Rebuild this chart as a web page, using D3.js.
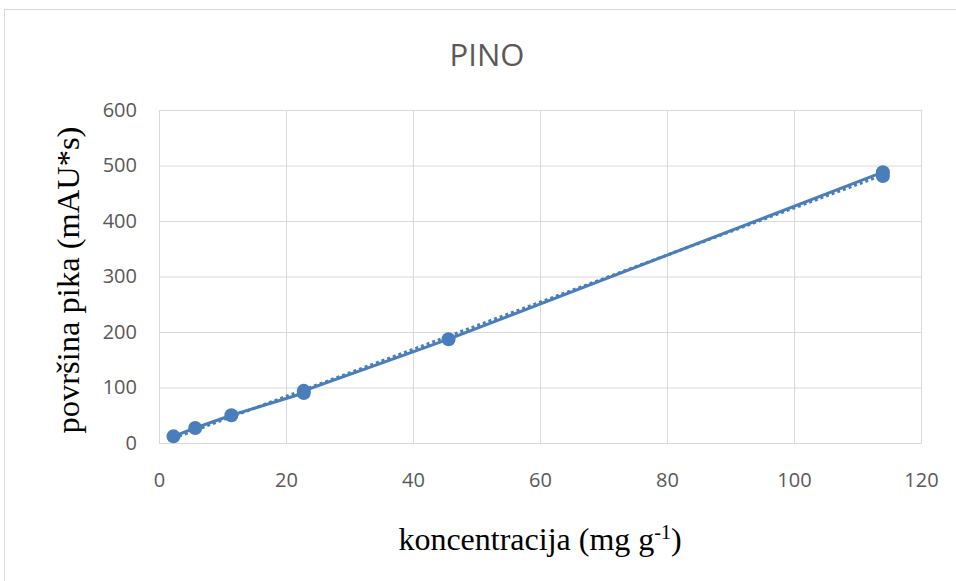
<!DOCTYPE html>
<html>
<head>
<meta charset="utf-8">
<script src="https://cdn.jsdelivr.net/npm/d3@7"></script>
<style>
  body { margin: 0; background: #fff; }
</style>
</head>
<body>
<div id="grafico"></div>
<script>
// datos
const concentracion = [2.28, 5.7, 11.4, 22.8, 22.8, 45.6, 114, 114];
const area = [12, 27, 50, 90, 94, 187, 488, 481];
const ticksX = [0, 20, 40, 60, 80, 100, 120];
const ticksY = [0, 100, 200, 300, 400, 500, 600];

const svgWidth = 956, svgHeight = 581;
const margin = { top: 110, right: 35, bottom: 138, left: 159 };
const width = svgWidth - margin.left - margin.right;
const height = svgHeight - margin.top - margin.bottom;
const azul = "#4a7ebb";

const svgRoot = d3.select("#grafico")
    .append("svg")
    .attr("width", svgWidth)
    .attr("height", svgHeight);

// marco del grafico
svgRoot.append("rect")
    .attr("x", 4.5).attr("y", 9.5)
    .attr("width", 1000).attr("height", 1000)
    .attr("fill", "none")
    .attr("stroke", "#d9d9d9");

const svg = svgRoot.append("g")
    .attr("transform", `translate(${margin.left}, ${margin.top})`);

const x = d3.scaleLinear().domain([0, 120]).range([0, width]);
const y = d3.scaleLinear().domain([0, 600]).range([height, 0]);

// Eje X con lineas de cuadricula
const ejeX = svg.append("g")
    .attr("transform", `translate(0, ${height})`)
    .call(d3.axisBottom(x).tickValues(ticksX).tickSize(-height).tickPadding(30));
ejeX.select(".domain").attr("stroke", "#d9d9d9");
ejeX.selectAll("line").attr("stroke", "#d9d9d9");
ejeX.selectAll("text")
    .attr("fill", "#595959")
    .style("font-family", "'Open Sans', sans-serif")
    .style("font-size", "20px");

// Eje Y
const ejeY = svg.append("g")
    .call(d3.axisLeft(y).tickValues(ticksY).tickSize(-width).tickPadding(22));
ejeY.select(".domain").remove();
ejeY.selectAll("line").attr("stroke", "#d9d9d9");
ejeY.selectAll("text")
    .attr("fill", "#595959")
    .style("font-family", "'Open Sans', sans-serif")
    .style("font-size", "20px");

// linea de tendencia (minimos cuadrados)
const mx = d3.mean(concentracion), my = d3.mean(area);
const pendiente = d3.sum(concentracion, (c, i) => (c - mx) * (area[i] - my)) /
    d3.sum(concentracion, c => (c - mx) * (c - mx));
const corte = my - pendiente * mx;
const xMin = d3.min(concentracion), xMax = d3.max(concentracion);

svg.append("line")
    .attr("x1", x(xMin)).attr("y1", y(corte + pendiente * xMin))
    .attr("x2", x(xMax)).attr("y2", y(corte + pendiente * xMax))
    .attr("stroke", azul)
    .attr("stroke-width", 3)
    .attr("stroke-dasharray", "3,3");

// serie
const puntos = concentracion.map((c, i) => ({ c: c, a: area[i] }));
const linea = d3.line()
    .x(d => x(d.c))
    .y(d => y(d.a));

svg.append("path")
    .datum(puntos)
    .attr("fill", "none")
    .attr("stroke", azul)
    .attr("stroke-width", 3)
    .attr("d", linea);

svg.selectAll(".punto")
    .data(puntos)
    .enter().append("circle")
    .attr("class", "punto")
    .attr("cx", d => x(d.c))
    .attr("cy", d => y(d.a))
    .attr("r", 7)
    .attr("fill", azul);

// Titulo
svgRoot.append("text")
    .attr("x", 487)
    .attr("y", 66)
    .attr("text-anchor", "middle")
    .attr("fill", "#595959")
    .style("font-family", "'Open Sans', sans-serif")
    .style("font-size", "31px")
    .text("PINO");

// Etiqueta eje X
const tituloX = svgRoot.append("text")
    .attr("x", 540)
    .attr("y", 550)
    .attr("text-anchor", "middle")
    .attr("fill", "#000")
    .style("font-family", "'Liberation Serif', serif")
    .style("font-size", "32px");
tituloX.append("tspan").text("koncentracija (mg g");
tituloX.append("tspan").attr("dy", -11).style("font-size", "20px").text("-1");
tituloX.append("tspan").attr("dy", 11).text(")");

// Etiqueta eje Y
svgRoot.append("text")
    .attr("transform", "translate(79, 280) rotate(-90)")
    .attr("text-anchor", "middle")
    .attr("fill", "#000")
    .style("font-family", "'Liberation Serif', serif")
    .style("font-size", "32.5px")
    .text("površina pika (mAU*s)");
</script>
</body>
</html>
